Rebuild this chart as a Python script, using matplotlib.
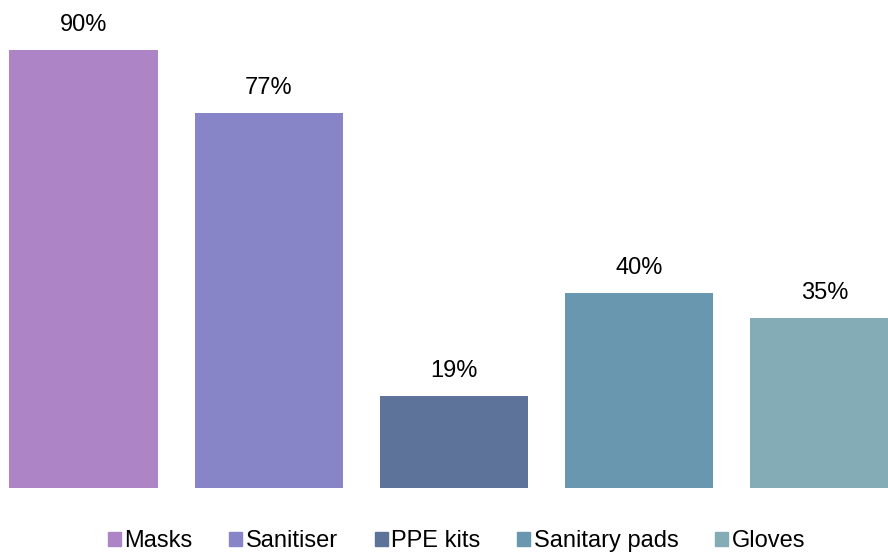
import matplotlib
matplotlib.use('Agg')
import matplotlib.pyplot as plt
from matplotlib.patches import Patch

plt.rcParams['font.family'] = ['Liberation Sans', 'DejaVu Sans']

items = ['Masks', 'Sanitiser', 'PPE kits', 'Sanitary pads', 'Gloves']
share = [90, 77, 19, 40, 35]
colours = ['#AD84C6', '#8784C7', '#5E7399', '#6997AF', '#84ACB6']

fig = plt.figure(figsize=(8.88, 5.53), dpi=100)
ax = fig.add_axes([0, 1 - 488 / 553, 1, 488 / 553])

x = range(len(items))
ax.bar(x, share, width=0.8, color=colours)
for i, v in zip(x, share):
    ax.annotate(f'{v}%', (i, v), xytext=(0, 18), textcoords='offset points',
                ha='center', va='center', fontsize=17, color='#000000',
                annotation_clip=False)

ax.set_xlim(-0.4507, 4.343)
ax.set_ylim(0, 100.3)
ax.axis('off')

handles = [Patch(color=c, label=n) for c, n in zip(colours, items)]
fig.legend(handles=handles, loc='center', bbox_to_anchor=(0.514, 1 - 541 / 553),
           ncol=5, frameon=False, fontsize=17, handlelength=0.55, handleheight=0.55,
           handletextpad=0.15, columnspacing=1.55)

fig.savefig('out.png', dpi=100)
